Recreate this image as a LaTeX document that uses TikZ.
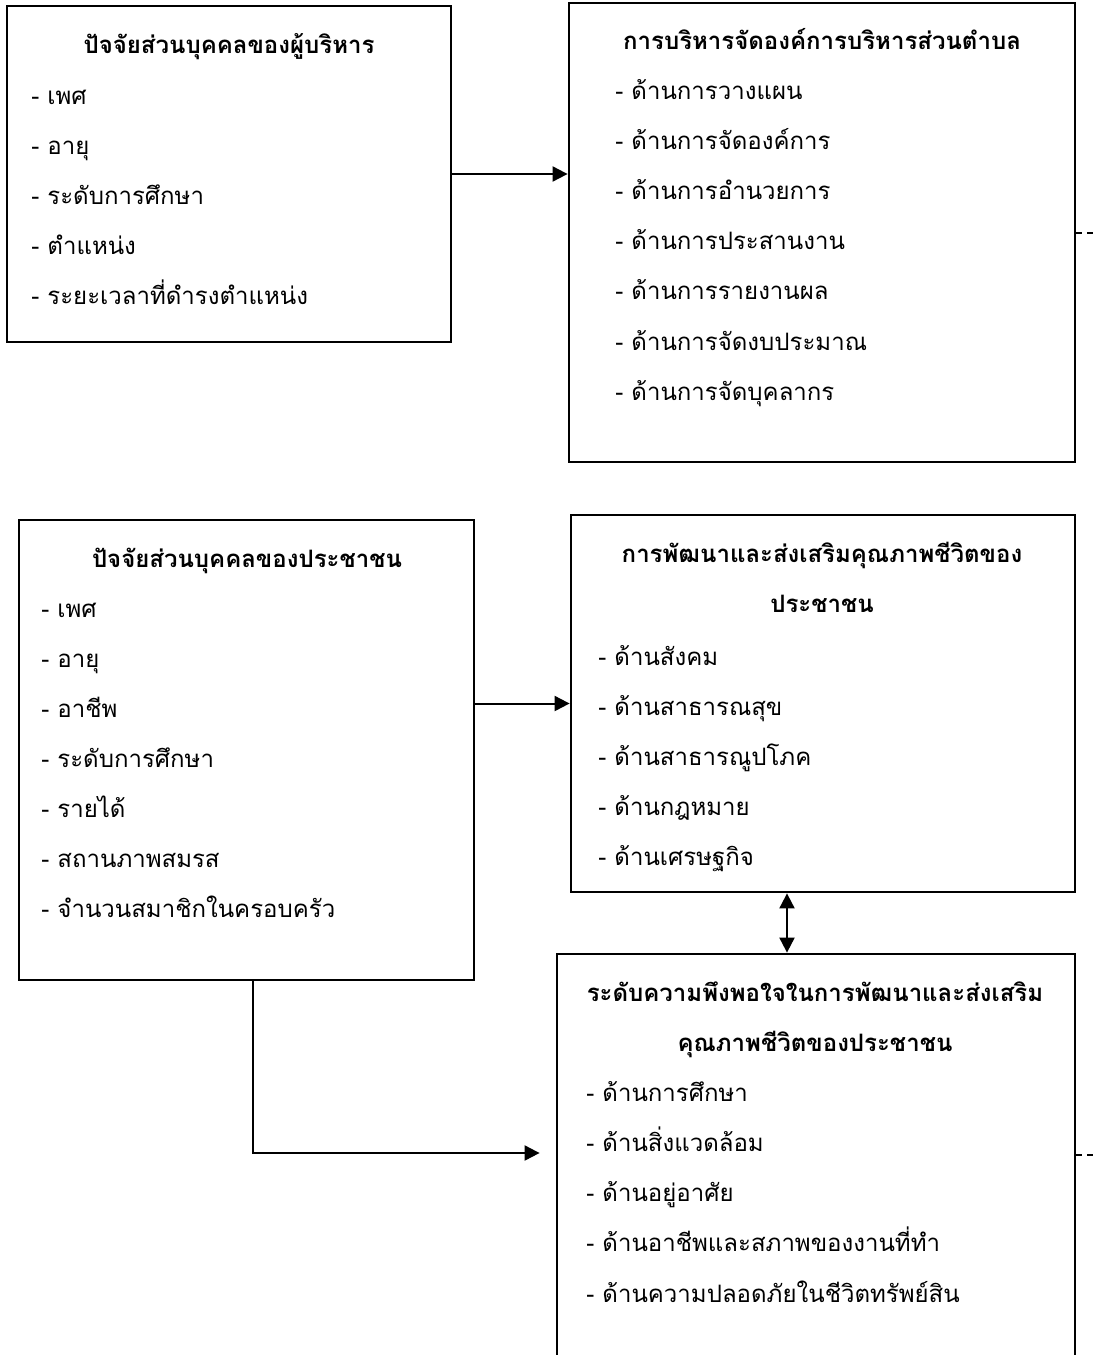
\documentclass[tikz,border=0pt]{standalone}
\usepackage{fontspec}
\newfontfamily\thaifont[Script=Thai]{Loma}
\usepackage{tikz}
\usetikzlibrary{arrows.meta}

\begin{document}
\begin{tikzpicture}[x = 0.5pt, y = -0.5pt, line width = 1.4pt,
                      box/.style = {draw, rectangle, inner sep = 0pt},
                      head/.style = {font = \thaifont\bfseries\fontsize{12}{25}\selectfont, align = center, anchor = base, inner sep = 0pt},
                      item/.style = {font = \thaifont\fontsize{12}{25}\selectfont, anchor = base west, inner sep = 0pt},
                      arr/.style = {-{Triangle[length = 7.5pt, width = 7.5pt]}, line width = 1pt},
                      twoway/.style = {{Triangle[length = 7.5pt, width = 7.5pt]}-{Triangle[length = 7.5pt, width = 7.5pt]}, line width = 1pt},
                      link/.style = {dash pattern = on 3pt off 2.5pt, line width = 1pt}]
    \useasboundingbox (0, 0) rectangle (1093, 1355);
    \clip (0, 0) rectangle (1093, 1355);

    % boxes
    \node [box, minimum width = 222pt, minimum height = 168pt] (adm) at (229, 174){};
    \node [box, minimum width = 253pt, minimum height = 229.5pt] (org) at (822, 232.5){};
    \node [box, minimum width = 227.5pt, minimum height = 230pt] (ppl) at (246.5, 750){};
    \node [box, minimum width = 252pt, minimum height = 188.5pt] (dev) at (823, 703.5){};
    \node [box, minimum width = 259pt, minimum height = 223pt] (sat) at (816, 1177){};

    % titles (two-line ones sit on their last line)
    \node [head] (adm-h) at (229, 53){ปัจจัยส่วนบุคคลของผู้บริหาร};
    \node [head] (org-h) at (822, 49){การบริหารจัดองค์การบริหารส่วนตำบล};
    \node [head] (ppl-h) at (247, 567){ปัจจัยส่วนบุคคลของประชาชน};
    \node [head] (dev-h) at (822, 612){การพัฒนาและส่งเสริมคุณภาพชีวิตของ\\ประชาชน};
    \node [head] (sat-h) at (815, 1051){ระดับความพึงพอใจในการพัฒนาและส่งเสริม\\คุณภาพชีวิตของประชาชน};

    % items
    \foreach \t [count = \i from 0] in {เพศ, อายุ, ระดับการศึกษา, ตำแหน่ง, ระยะเวลาที่ดำรงตำแหน่ง}
        \node [item] (adm-\i) at (30, 104 + 50*\i){- \t};
    \foreach \t [count = \i from 0] in {ด้านการวางแผน, ด้านการจัดองค์การ, ด้านการอำนวยการ, ด้านการประสานงาน, ด้านการรายงานผล, ด้านการจัดงบประมาณ, ด้านการจัดบุคลากร}
        \node [item] (org-\i) at (614, 99 + 50.2*\i){- \t};
    \foreach \t [count = \i from 0] in {เพศ, อายุ, อาชีพ, ระดับการศึกษา, รายได้, สถานภาพสมรส, จำนวนสมาชิกในครอบครัว}
        \node [item] (ppl-\i) at (40, 617 + 50*\i){- \t};
    \foreach \t [count = \i from 0] in {ด้านสังคม, ด้านสาธารณสุข, ด้านสาธารณูปโภค, ด้านกฎหมาย, ด้านเศรษฐกิจ}
        \node [item] (dev-\i) at (597, 665 + 50*\i){- \t};
    \foreach \t [count = \i from 0] in {ด้านการศึกษา, ด้านสิ่งแวดล้อม, ด้านอยู่อาศัย, ด้านอาชีพและสภาพของงานที่ทำ, ด้านความปลอดภัยในชีวิตทรัพย์สิน}
        \node [item] (sat-\i) at (585, 1101 + 50.3*\i){- \t};

    % connectors
    \draw [arr] (adm.east) -- (adm.east -| org.west);
    \draw [arr] (dev.west -| ppl.east) -- (dev.west);
    \draw [arr] ([xshift = 3.25pt]ppl.south) |- ([xshift = -8pt, yshift = 12pt]sat.west);
    \draw [twoway] ([xshift = -18pt]dev.south) -- ([xshift = -18pt]dev.south |- sat.north);
    \draw [link] (org.east) -- ++(20, 0);
    \draw [link] ([yshift = 11pt]sat.east) -- ++(20, 0);
    \end{tikzpicture}
\end{document}
